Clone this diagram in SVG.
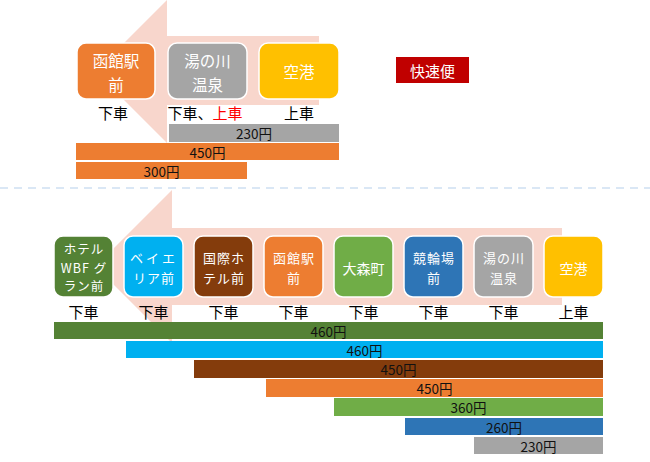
<svg xmlns="http://www.w3.org/2000/svg" width="650" height="462" viewBox="0 0 650 462">
<style>
text{font-family:"Noto Sans CJK JP","Noto Sans",sans-serif;text-anchor:middle;dominant-baseline:central}
.nt{fill:#fff;font-size:15.5px}
.nb{fill:#fff;font-size:14px}
.n2{fill:#fff;font-size:13px;letter-spacing:1px}
.n3{fill:#fff;font-size:12.5px;letter-spacing:1px}
.lb{fill:#000;font-size:15px}
.bt{fill:#111;font-size:13.5px}
.node rect{stroke:#fff;stroke-width:1.5}
.arrow{fill:#F8D6CC}
</style>
<rect width="650" height="462" fill="#fff"/>
<g id="connectors">
<path class="arrow" d="M319 36 L167 36 L167 0 L95.5 71.5 L167 143 L167 105 L319 105 Z"/>
<path class="arrow" d="M562 228 L172 228 L172 190 L95.5 266.5 L172 343 L172 305 L562 305 Z"/>
<line x1="0" y1="188" x2="650" y2="188" stroke="#DAE7F5" stroke-width="2" stroke-dasharray="8 6"/>
</g>
<g id="top-nodes">
<g id="t-hakodate" class="node"><rect x="77" y="43" width="78" height="56" rx="9" fill="#ED7D31"/><text class="nt"><tspan x="116" y="60">函館駅</tspan><tspan x="116" y="84">前</tspan></text></g>
<g id="t-yunokawa" class="node"><rect x="168" y="43" width="79" height="56" rx="9" fill="#A5A5A5"/><text class="nt"><tspan x="207.5" y="60">湯の川</tspan><tspan x="207.5" y="84">温泉</tspan></text></g>
<g id="t-airport" class="node"><rect x="259" y="43" width="80" height="56" rx="9" fill="#FFC000"/><text class="nt" x="299" y="71">空港</text></g>
<g id="rapid"><rect x="396" y="57" width="73" height="26" fill="#C00000"/><text x="432.5" y="70" style="fill:#fff;font-size:15px">快速便</text></g>
<text class="lb" x="113" y="112">下車</text>
<text class="lb" x="205" y="112">下車、<tspan fill="#FF0000">上車</tspan></text>
<text class="lb" x="299" y="112">上車</text>
</g>
<g id="top-bars">
<rect x="169" y="124" width="170" height="18" fill="#A5A5A5"/><text class="bt" x="254" y="133">230円</text>
<rect x="76" y="143" width="263" height="17" fill="#ED7D31"/><text class="bt" x="207.5" y="151.5">450円</text>
<rect x="76" y="162" width="171" height="17" fill="#ED7D31"/><text class="bt" x="161.5" y="170.5">300円</text>
</g>
<g id="bottom-nodes">
<g id="b-hotelwbf" class="node"><rect x="54" y="236" width="59" height="61" rx="9" fill="#548235"/><text class="n3"><tspan x="84" y="248">ホテル</tspan><tspan x="84" y="266.5">WBF グ</tspan><tspan x="84" y="285">ラン前</tspan></text></g>
<g id="b-bayarea" class="node"><rect x="124" y="236" width="59" height="61" rx="9" fill="#00B0F0"/><text class="n2"><tspan x="154" y="257" letter-spacing="3">ベイエ</tspan><tspan x="154" y="276.5">リア前</tspan></text></g>
<g id="b-kokusai" class="node"><rect x="194" y="236" width="59" height="61" rx="9" fill="#843C0C"/><text class="n2"><tspan x="224" y="257">国際ホ</tspan><tspan x="224" y="276.5">テル前</tspan></text></g>
<g id="b-hakodate" class="node"><rect x="264" y="236" width="59" height="61" rx="9" fill="#ED7D31"/><text class="n2"><tspan x="294" y="257">函館駅</tspan><tspan x="294" y="276.5">前</tspan></text></g>
<g id="b-omori" class="node"><rect x="334" y="236" width="59" height="61" rx="9" fill="#70AD47"/><text class="nb" x="363.5" y="268">大森町</text></g>
<g id="b-keirin" class="node"><rect x="404" y="236" width="59" height="61" rx="9" fill="#2E75B6"/><text class="n2"><tspan x="434" y="257">競輪場</tspan><tspan x="434" y="276.5">前</tspan></text></g>
<g id="b-yunokawa" class="node"><rect x="474" y="236" width="59" height="61" rx="9" fill="#A5A5A5"/><text class="n2"><tspan x="504" y="257">湯の川</tspan><tspan x="504" y="276.5">温泉</tspan></text></g>
<g id="b-airport" class="node"><rect x="544" y="236" width="59" height="61" rx="9" fill="#FFC000"/><text class="nb" x="573.5" y="268">空港</text></g>
<text class="lb" x="83.5" y="311">下車</text>
<text class="lb" x="153.5" y="311">下車</text>
<text class="lb" x="223.5" y="311">下車</text>
<text class="lb" x="293.5" y="311">下車</text>
<text class="lb" x="363.5" y="311">下車</text>
<text class="lb" x="433.5" y="311">下車</text>
<text class="lb" x="503.5" y="311">下車</text>
<text class="lb" x="573.5" y="311">上車</text>
</g>
<g id="bottom-bars">
<rect x="54" y="322" width="549" height="17" fill="#548235"/><text class="bt" x="328.5" y="330.5">460円</text>
<rect x="126" y="341" width="477" height="17" fill="#00B0F0"/><text class="bt" x="364.5" y="349.5">460円</text>
<rect x="194" y="360" width="409" height="18" fill="#843C0C"/><text class="bt" x="398.5" y="369">450円</text>
<rect x="266" y="379" width="337" height="18" fill="#ED7D31"/><text class="bt" x="434.5" y="388">450円</text>
<rect x="334" y="398" width="269" height="18" fill="#70AD47"/><text class="bt" x="468.5" y="407">360円</text>
<rect x="405" y="418" width="198" height="17" fill="#2E75B6"/><text class="bt" x="504" y="426.5">260円</text>
<rect x="474" y="437" width="129" height="17" fill="#A5A5A5"/><text class="bt" x="538.5" y="445.5">230円</text>
</g>
</svg>
